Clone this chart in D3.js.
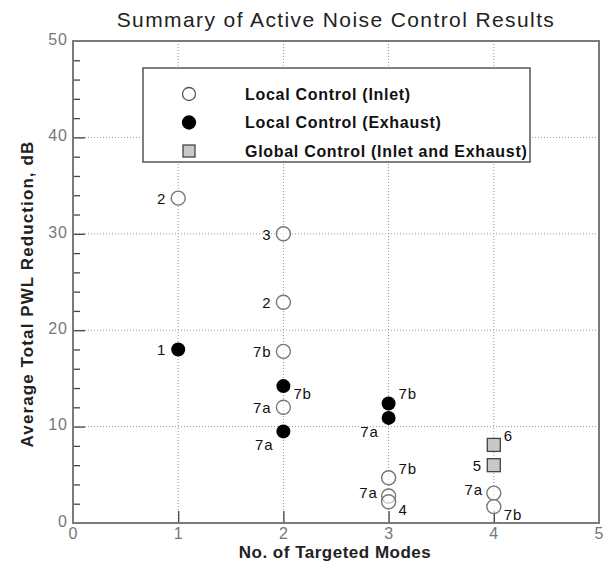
<!DOCTYPE html>
<html>
<head>
<meta charset="utf-8">
<script src="https://cdn.jsdelivr.net/npm/d3@7"></script>
<style>
    body { margin: 0; background: #fff; }
    text { font-family: "Liberation Sans", Arial, sans-serif; }
</style>
</head>
<body>
<svg id="chart" width="610" height="562"></svg>
<script>
/*global d3*/
// values
var inletModes   = [1, 2, 2, 2, 2, 3, 3, 3, 4, 4],
    inletDb      = [33.7, 30.0, 22.9, 17.8, 12.0, 4.7, 2.8, 2.2, 3.1, 1.7],
    inletLabels  = ["2", "3", "2", "7b", "7a", "7b", "7a", "4", "7a", "7b"],
    exhaustModes  = [1, 2, 2, 3, 3],
    exhaustDb     = [18.0, 14.2, 9.5, 12.4, 10.9],
    exhaustLabels = ["1", "7b", "7a", "7b", "7a"],
    globalModes  = [4, 4],
    globalDb     = [8.1, 6.0],
    globalLabels = ["6", "5"],
    xTicks = [0, 1, 2, 3, 4, 5],
    yTicks = [0, 10, 20, 30, 40, 50],
    legendNames = ["Local Control (Inlet)", "Local Control (Exhaust)", "Global Control (Inlet and Exhaust)"];

// where each point label sits relative to its marker
var inletPlace   = ["l", "l", "l", "l", "l", "ur", "ul", "dr", "ul", "dr"],
    exhaustPlace = ["l", "dr", "dl", "ur", "dl"],
    globalPlace  = ["ur", "l"];

var svg = d3.select("#chart"),
    margin = {left: 73, right: 11, top: 41, bottom: 39},
    width = 610 - margin.left - margin.right,
    height = 562 - margin.top - margin.bottom;

var x = d3.scaleLinear().domain([0, 5]).range([0, width]),
    y = d3.scaleLinear().domain([0, 50]).range([height, 0]);

var g = svg.append("g").attr("transform", "translate(" + margin.left + "," + margin.top + ")");

// title
svg.append("text")
    .attr("x", 336).attr("y", 27)
    .attr("text-anchor", "middle")
    .style("font-size", "21px")
    .style("letter-spacing", "1.4px")
    .style("fill", "#222")
    .text("Summary of Active Noise Control Results");

// dotted grid
g.append("g").selectAll("line")
    .data(xTicks.slice(1, -1))
    .enter().append("line")
    .attr("x1", function (d) { return x(d); })
    .attr("x2", function (d) { return x(d); })
    .attr("y1", 0).attr("y2", height)
    .style("stroke", "#999").style("stroke-width", 1).style("stroke-dasharray", "1,2");
g.append("g").selectAll("line")
    .data(yTicks.slice(1, -1))
    .enter().append("line")
    .attr("y1", function (d) { return y(d); })
    .attr("y2", function (d) { return y(d); })
    .attr("x1", 0).attr("x2", width)
    .style("stroke", "#999").style("stroke-width", 1).style("stroke-dasharray", "1,2");

// axes with inward ticks
var xAxis = d3.axisBottom(x).tickValues(xTicks).tickSize(-12).tickFormat(d3.format("d"));
var yAxis = d3.axisLeft(y).tickValues(d3.range(0, 51, 2)).tickSize(-7)
    .tickFormat(function (d) { return d % 10 === 0 ? d : ""; });

var gx = g.append("g").attr("transform", "translate(0," + height + ")").call(xAxis);
var gy = g.append("g").call(yAxis);
[gx, gy].forEach(function (a) {
    a.select(".domain").remove();
    a.selectAll(".tick line").style("stroke", "#444").style("stroke-width", 1.3);
    a.selectAll(".tick text").style("font-size", "16px").style("fill", "#777")
        .style("letter-spacing", "1px").style("font-family", "Liberation Sans, Arial, sans-serif");
});
gy.selectAll(".tick line").attr("x2", function (d) { return d % 10 === 0 ? 12 : 7; });
gx.selectAll(".tick line").filter(function (d) { return d === 0 || d === 5; }).remove();
gy.selectAll(".tick line").filter(function (d) { return d === 0 || d === 50; }).remove();
gy.selectAll(".tick text").attr("dy", "0.2em").attr("x", -5);
gx.selectAll(".tick text").attr("y", 5);

// frame
g.append("rect")
    .attr("width", width).attr("height", height)
    .style("fill", "none").style("stroke", "#7a7a7a").style("stroke-width", 2);

// legend
var lg = g.append("g").attr("transform", "translate(" + (143 - margin.left) + "," + (68 - margin.top) + ")");
lg.append("rect")
    .attr("width", 387).attr("height", 94)
    .style("fill", "#fff").style("stroke", "#555").style("stroke-width", 1.5);
var legendRows = lg.selectAll("g.row")
    .data(legendNames)
    .enter().append("g")
    .attr("transform", function (d, i) { return "translate(46," + (26 + i * 28.5) + ")"; });
legendRows.each(function (d, i) {
    var r = d3.select(this);
    if (i === 2) {
        r.append("rect").attr("x", -6).attr("y", -6).attr("width", 12).attr("height", 12)
            .style("fill", "#c8c8c8").style("stroke", "#444").style("stroke-width", 1.3);
    } else {
        r.append("circle").attr("r", 6.5)
            .style("fill", i === 0 ? "#fff" : "#000")
            .style("stroke", i === 0 ? "#555" : "#000").style("stroke-width", 1.3);
    }
    r.append("text").attr("x", 56).attr("dy", "0.36em")
        .style("font-size", "16px").style("font-weight", "bold").style("fill", "#111")
        .style("letter-spacing", "0.7px")
        .text(d);
});

// point labels
function placeLabel(sel, place) {
    var off = {
        l:   [-12, 1, "end"],
        ur:  [10, -9, "start"],
        ul:  [-11, -3, "end"],
        dr:  [10, 8, "start"],
        dl:  [-10, 14, "end"]
    }[place];
    sel.attr("dx", off[0]).attr("dy", off[1] + 5).attr("text-anchor", off[2]);
}

function addLabels(modes, vals, labels, places) {
    g.append("g").selectAll("text")
        .data(labels)
        .enter().append("text")
        .attr("x", function (d, i) { return x(modes[i]); })
        .attr("y", function (d, i) { return y(vals[i]); })
        .style("font-size", "15px").style("letter-spacing", "0.8px").style("fill", "#111")
        .text(function (d) { return d; })
        .each(function (d, i) { placeLabel(d3.select(this), places[i]); });
}

// markers
g.append("g").selectAll("circle")
    .data(inletDb)
    .enter().append("circle")
    .attr("cx", function (d, i) { return x(inletModes[i]); })
    .attr("cy", function (d) { return y(d); })
    .attr("r", 7)
    .style("fill", "#fff").style("fill-opacity", 0.6).style("stroke", "#777").style("stroke-width", 1.4);

g.append("g").selectAll("circle")
    .data(exhaustDb)
    .enter().append("circle")
    .attr("cx", function (d, i) { return x(exhaustModes[i]); })
    .attr("cy", function (d) { return y(d); })
    .attr("r", 7)
    .style("fill", "#000");

g.append("g").selectAll("rect")
    .data(globalDb)
    .enter().append("rect")
    .attr("x", function (d, i) { return x(globalModes[i]) - 6.5; })
    .attr("y", function (d) { return y(d) - 6.5; })
    .attr("width", 13).attr("height", 13)
    .style("fill", "#c8c8c8").style("stroke", "#444").style("stroke-width", 1.3);

addLabels(inletModes, inletDb, inletLabels, inletPlace);
addLabels(exhaustModes, exhaustDb, exhaustLabels, exhaustPlace);
addLabels(globalModes, globalDb, globalLabels, globalPlace);

// axis titles
svg.append("text")
    .attr("x", 335).attr("y", 558)
    .attr("text-anchor", "middle")
    .style("font-size", "17px").style("font-weight", "bold").style("fill", "#222")
    .style("letter-spacing", "0.5px")
    .text("No. of Targeted Modes");
svg.append("text")
    .attr("transform", "translate(33,294) rotate(-90)")
    .attr("text-anchor", "middle")
    .style("font-size", "17px").style("font-weight", "bold").style("fill", "#222")
    .style("letter-spacing", "1.1px")
    .text("Average Total PWL Reduction, dB");
</script>
</body>
</html>
